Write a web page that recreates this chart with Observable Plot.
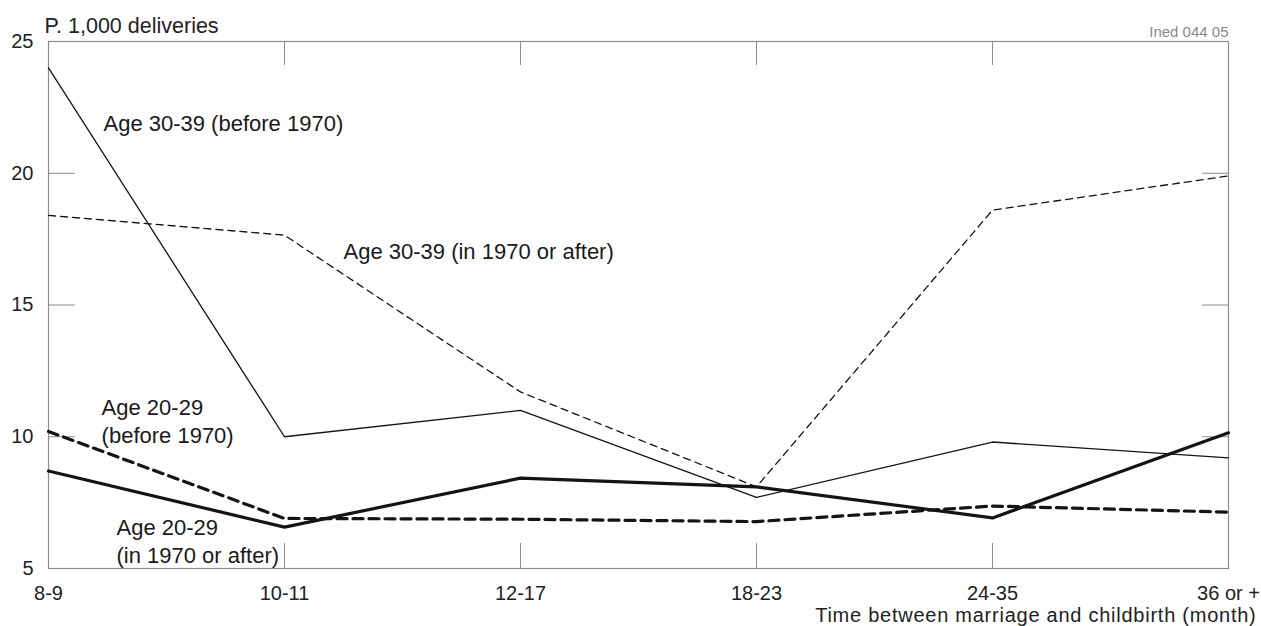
<!DOCTYPE html>
<html><head><meta charset="utf-8">
<script src="https://cdn.jsdelivr.net/npm/d3@7"></script>
<script src="https://cdn.jsdelivr.net/npm/@observablehq/plot@0.6"></script>
<style>
html,body{margin:0;padding:0;background:#fff;}
.xtitle text{letter-spacing:0.75px;}
</style>
</head><body><div id="chart"></div>
<script>
// Categories (time between marriage and childbirth, months)
const categories = ["8-9", "10-11", "12-17", "18-23", "24-35", "36 or +"];
// Per 1,000 deliveries
const age3039Before = [24.0, 10.0, 11.0, 7.7, 9.8, 9.2];
const age3039After  = [18.4, 17.65, 11.7, 8.1, 18.6, 19.9];
const age2029Before = [10.2, 6.9, 6.87, 6.78, 7.37, 7.14];
const age2029After  = [8.7, 6.57, 8.43, 8.1, 6.92, 10.15];

const yTickValues = [5, 10, 15, 20, 25];
const innerYTicks = [10, 15, 20];

const yTitle = "P. 1,000 deliveries";
const xTitle = "Time between marriage and childbirth (month)";
const sourceNote = "Ined 044 05";

// Series annotations (x in category-index units, y in data units)
const seriesLabels = [
  {text: "Age 30-39 (before 1970)", x: 0.233, y: 21.96},
  {text: "Age 30-39 (in 1970 or after)", x: 1.25, y: 17.1},
  {text: "Age 20-29\n(before 1970)", x: 0.225, y: 10.65},
  {text: "Age 20-29\n(in 1970 or after)", x: 0.288, y: 6.08}
];

const idx = categories.map((c, i) => i);
const toRows = (values) => values.map((v, i) => ({i, v}));
const innerX = idx.slice(1, -1);

const tickShape = {draw(context, l) { context.moveTo(0, 0); context.lineTo(0, -l); }};
const frameColor = "#8c8c8c";
const ink = "#141414";

const chart = Plot.plot({
  width: 1261,
  height: 626,
  marginLeft: 48,
  marginRight: 33,
  marginTop: 41,
  marginBottom: 58,
  style: {fontFamily: "'Liberation Sans', Arial, Helvetica, sans-serif", fontSize: "20px", color: "#222", background: "#fff"},
  x: {type: "linear", domain: [0, categories.length - 1]},
  y: {domain: [5, 25]},
  marks: [
    Plot.frame({stroke: frameColor, strokeWidth: 1.2}),
    // inward ticks
    Plot.vector(innerYTicks, {x: () => 0, y: d => d, rotate: 90, length: 26, anchor: "start", shape: tickShape, stroke: frameColor, strokeWidth: 1}),
    Plot.vector(innerYTicks, {x: () => categories.length - 1, y: d => d, rotate: -90, length: 26, anchor: "start", shape: tickShape, stroke: frameColor, strokeWidth: 1}),
    Plot.vector(innerX, {x: d => d, y: () => 25, rotate: 180, length: 23, anchor: "start", shape: tickShape, stroke: frameColor, strokeWidth: 1}),
    Plot.vector(innerX, {x: d => d, y: () => 5, rotate: 0, length: 25, anchor: "start", shape: tickShape, stroke: frameColor, strokeWidth: 1}),
    Plot.axisX(idx, {tickSize: 0, tickPadding: 17, tickFormat: i => categories[i], label: null, fontSize: 20}),
    Plot.axisY(yTickValues, {tickSize: 0, tickPadding: 15, label: null, fontSize: 20}),
    // series
    Plot.line(toRows(age3039Before), {x: "i", y: "v", stroke: ink, strokeWidth: 1.3}),
    Plot.line(toRows(age3039After), {x: "i", y: "v", stroke: ink, strokeWidth: 1.3, strokeDasharray: "7,5"}),
    Plot.line(toRows(age2029Before), {x: "i", y: "v", stroke: ink, strokeWidth: 3.2, strokeDasharray: "10,6"}),
    Plot.line(toRows(age2029After), {x: "i", y: "v", stroke: ink, strokeWidth: 3.2}),
    // labels
    Plot.text(seriesLabels, {x: "x", y: "y", text: "text", textAnchor: "start", lineAnchor: "middle", fontSize: 22, lineHeight: 1.27, fill: "#1a1a1a"}),
    Plot.text([yTitle], {frameAnchor: "top-left", text: d => d, textAnchor: "start", lineAnchor: "bottom", dx: -4, dy: -9, fontSize: 21.5, fill: "#222"}),
    Plot.text([sourceNote], {frameAnchor: "top-right", text: d => d, textAnchor: "end", lineAnchor: "bottom", dy: -5, fontSize: 15, fill: "#888"}),
    Plot.text([xTitle], {frameAnchor: "bottom-right", text: d => d, textAnchor: "end", lineAnchor: "bottom", dy: 53, dx: 28, fontSize: 20, fill: "#222", className: "xtitle"})
  ]
});
document.getElementById("chart").appendChild(chart);
</script>
</body></html>
